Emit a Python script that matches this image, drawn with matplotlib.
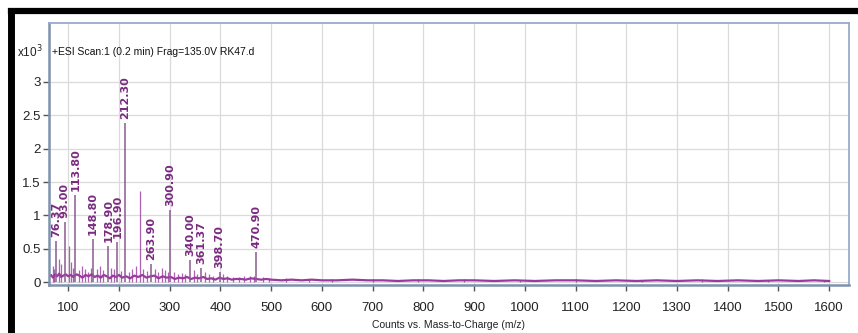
import matplotlib.pyplot as plt
from matplotlib.lines import Line2D

# 글꼴
plt.rcParams['font.family'] = ['Liberation Sans', 'DejaVu Sans']

# 라벨이 붙은 주요 피크 (m/z, 강도 x10^3)
peak_mz = [76.37, 93.00, 113.80, 148.80, 178.90, 196.90, 212.30, 263.90, 300.90, 340.00, 361.37, 398.70, 470.90]
peak_int = [0.62, 0.90, 1.30, 0.65, 0.55, 0.60, 2.38, 0.27, 1.08, 0.34, 0.22, 0.16, 0.45]
peak_labels = ['76.37', '93.00', '113.80', '148.80', '178.90', '196.90', '212.30',
               '263.90', '300.90', '340.00', '361.37', '398.70', '470.90']

# 라벨 없는 작은 피크
minor_mz = [69, 72, 81, 86, 101, 105, 109, 121, 127, 133, 139, 144, 156, 162, 168,
            185, 191, 203, 220, 226, 233, 242, 248, 256, 270, 276, 285, 291, 296, 308,
            316, 324, 331, 347, 354, 369, 378, 386, 405, 413, 424, 437, 447, 458, 466,
            483, 495, 530, 575, 620, 700, 790, 880, 990, 1100, 1230, 1350, 1480, 1590]
minor_int = [0.25, 0.2, 0.35, 0.28, 0.55, 0.3, 0.22, 0.18, 0.25, 0.2, 0.15, 0.22, 0.2, 0.25, 0.18,
             0.22, 0.2, 0.17, 0.15, 0.2, 0.25, 1.36, 0.2, 0.17, 0.2, 0.15, 0.22, 0.18, 0.15, 0.15,
             0.12, 0.14, 0.13, 0.18, 0.12, 0.15, 0.12, 0.1, 0.12, 0.1, 0.08, 0.08, 0.09, 0.1, 0.09,
             0.08, 0.07, 0.06, 0.05, 0.05, 0.05, 0.05, 0.05, 0.04, 0.05, 0.04, 0.05, 0.04, 0.04]

# 기준선 (노이즈)
baseline_mz = [62, 66, 70, 74, 78, 82, 86, 90, 95, 100, 105, 110, 116, 122, 128, 134, 140, 146,
               152, 158, 164, 170, 176, 182, 188, 194, 200, 206,
               214, 222, 230, 238, 246, 254, 262, 270, 278, 286, 294, 302, 310, 318, 326, 334,
               342, 350, 358, 366, 374, 382, 390, 398, 406, 414, 422, 430,
               440, 450, 460, 470, 480, 490, 500, 520, 540, 560, 580, 600, 630, 660, 690, 720,
               750, 780, 810, 840, 870, 900, 940, 980, 1020, 1060, 1100, 1140, 1180, 1220,
               1260, 1300, 1340, 1380, 1420, 1460, 1500, 1540, 1570, 1600]
baseline_int = [0.08, 0.11, 0.07, 0.12, 0.09, 0.13, 0.08, 0.10, 0.12, 0.09, 0.11, 0.08, 0.12, 0.10,
                0.07, 0.11, 0.09, 0.12, 0.08, 0.10, 0.07, 0.11, 0.09, 0.06, 0.10, 0.08, 0.11, 0.07,
                0.09, 0.06, 0.10, 0.08, 0.11, 0.07, 0.09, 0.10, 0.06, 0.09, 0.07, 0.08, 0.05, 0.07,
                0.06, 0.08, 0.05, 0.07, 0.06, 0.08, 0.05, 0.06, 0.04, 0.07, 0.05, 0.06, 0.04, 0.05,
                0.05, 0.04, 0.06, 0.05, 0.04, 0.05, 0.04, 0.03, 0.04, 0.03, 0.04, 0.03, 0.03, 0.04,
                0.03, 0.03, 0.02, 0.03, 0.03, 0.02, 0.03, 0.03, 0.02, 0.03, 0.02, 0.03, 0.03, 0.02,
                0.03, 0.02, 0.03, 0.02, 0.03, 0.02, 0.03, 0.02, 0.03, 0.02, 0.03, 0.02]

x_ticks = list(range(100, 1700, 100))
y_ticks = [0, 0.5, 1, 1.5, 2, 2.5, 3]
y_tick_labels = ['0', '0.5', '1', '1.5', '2', '2.5', '3']

spec_color = '#9b3a9e'
label_color = '#7a2a80'

fig = plt.figure(figsize=(8.58, 3.33), dpi=100)
ax = fig.add_axes([49 / 858, 48 / 333, 800 / 858, 262 / 333])

ax.plot(baseline_mz, baseline_int, color=spec_color, lw=1.6)
ax.vlines(minor_mz, 0, minor_int, color=spec_color, lw=0.9, alpha=0.8)
ax.vlines(peak_mz, 0, peak_int, color='#8a5a90', lw=1.1)

for mz, h, lab in zip(peak_mz, peak_int, peak_labels):
    ax.text(mz, h + 0.06, lab, rotation=90, ha='center', va='bottom',
            fontsize=8, fontweight='bold', color=label_color, family='DejaVu Sans')

ax.set_xlim(62, 1639)
ax.set_ylim(-0.04, 3.88)
ax.set_xticks(x_ticks)
ax.set_yticks(y_ticks)
ax.set_yticklabels(y_tick_labels)
ax.grid(True, color='#dadada', lw=0.9)
ax.set_axisbelow(True)

for s in ['top', 'right']:
    ax.spines[s].set_color('#9aaac8')
    ax.spines[s].set_linewidth(1.3)
for s in ['left', 'bottom']:
    ax.spines[s].set_color('#7f91ad')
    ax.spines[s].set_linewidth(1.8)

ax.tick_params(axis='both', labelsize=9.5, colors='#555555', labelcolor='#222222', length=4, width=1)
ax.tick_params(axis='x', pad=8)
ax.tick_params(axis='y', pad=2)

ax.text(0.004, 0.889, '+ESI Scan:1 (0.2 min) Frag=135.0V RK47.d', transform=ax.transAxes,
        ha='left', va='center', fontsize=7.5, color='#111111')
fig.text(17 / 858, (333 - 52) / 333, 'x10$^{3}$', ha='left', va='center', fontsize=8.5, color='#222222')
fig.text(449 / 858, (333 - 325) / 333, 'Counts vs. Mass-to-Charge (m/z)', ha='center', va='center',
         fontsize=7.5, color='#222222')

# 바깥 검은 테두리 (위, 왼쪽)
fig.add_artist(Line2D([11 / 858, 1], [1 - 11 / 333, 1 - 11 / 333], color='black', lw=4.5,
                      transform=fig.transFigure))
fig.add_artist(Line2D([11 / 858, 11 / 858], [0, 1 - 11 / 333], color='black', lw=5,
                      transform=fig.transFigure))

plt.savefig('out.png', dpi=100)
